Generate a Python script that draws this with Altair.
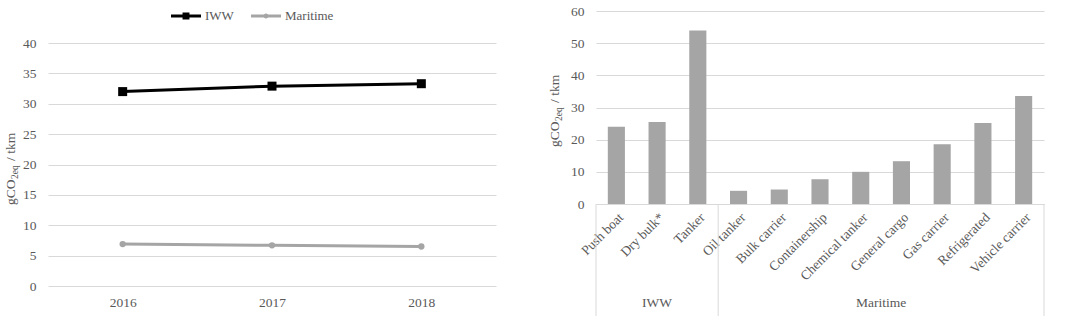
import altair as alt
import pandas as pd

# ---------------- data ----------------
years = ["2016", "2017", "2018"]
iww = [32.0, 32.9, 33.3]
maritime = [6.9, 6.7, 6.5]
series_names = ["IWW", "Maritime"]

vessels = ["Push boat", "Dry bulk*", "Tanker", "Oil tanker", "Bulk carrier",
           "Containership", "Chemical tanker", "General cargo", "Gas carrier",
           "Refrigerated", "Vehicle carrier"]
vessel_values = [24.0, 25.5, 53.9, 4.1, 4.5, 7.7, 10.0, 13.3, 18.6, 25.2, 33.6]
groups = ["IWW", "Maritime"]
group_sizes = [3, 8]

FONT = "Liberation Serif"
TXT = "#595959"
GRID = "#d9d9d9"
BLACK = "#000000"
GREY = "#a5a5a5"
FS = 13.5

W = 448
HL = 275      # left panel height (plot region starts at same top as right panel)
LTOP = 32     # top of left value range inside that panel (room for legend)
HR = 193

line_df = pd.DataFrame({
    "Year": years * 2,
    "Series": [series_names[0]] * 3 + [series_names[1]] * 3,
    "Value": iww + maritime,
})

bar_df = pd.DataFrame({"Vessel": vessels, "Value": vessel_values})

bounds = [0]
for s in group_sizes:
    bounds.append(bounds[-1] + s)
sep_df = pd.DataFrame({"pos": bounds})
grp_df = pd.DataFrame({
    "grp": groups,
    "mid": [(bounds[i] + bounds[i + 1]) / 2 for i in range(len(groups))],
})
N = len(vessels)


def y_title(xb, y0):
    """Rotated axis title 'gCO2eq / tkm' with a subscript, built from text marks."""
    base = alt.Chart(pd.DataFrame({"k": [0]}))
    start_sub = y0 - 26
    main = base.mark_text(angle=270, align="left", baseline="alphabetic",
                          font=FONT, fontSize=13.5, color=TXT).encode(
        x=alt.value(xb), y=alt.value(y0), text=alt.value("gCO"))
    sub = base.mark_text(angle=270, align="left", baseline="alphabetic",
                         font=FONT, fontSize=9.5, color=TXT).encode(
        x=alt.value(xb + 3), y=alt.value(start_sub), text=alt.value("2eq"))
    rest = base.mark_text(angle=270, align="left", baseline="alphabetic",
                          font=FONT, fontSize=13.5, color=TXT).encode(
        x=alt.value(xb), y=alt.value(start_sub - 18), text=alt.value("/ tkm"))
    return [main, sub, rest]


# ---------------- left chart ----------------
x_left = alt.X("Year:O", scale=alt.Scale(type="point", padding=0.5),
               axis=alt.Axis(title=None, labelAngle=0, domain=False, ticks=False,
                             labelPadding=9, labelFont=FONT, labelFontSize=FS,
                             labelColor=TXT))
y_left = alt.Y("Value:Q", scale=alt.Scale(domain=[0, 40], nice=False, range=[HL, LTOP]),
               axis=alt.Axis(title=None, values=list(range(0, 41, 5)), grid=True,
                             gridColor=GRID, domain=False, ticks=False,
                             labelPadding=12, labelFont=FONT, labelFontSize=FS,
                             labelColor=TXT))

legend = alt.Legend(
    orient="none", legendX=122, legendY=-11, direction="horizontal", title=None,
    symbolSize=900, symbolOpacity=1, labelFont=FONT, labelFontSize=13,
    labelColor=TXT, labelOffset=3, columnPadding=14,
)
legend_paths = [
    "M-1,-0.1H1V0.1H-1ZM-0.23,-0.23H0.23V0.23H-0.23Z",
    "M-1,-0.1H1V0.1H-1ZM0.17,0A0.17,0.17,0,1,1,-0.17,0A0.17,0.17,0,1,1,0.17,0Z",
]

legend_layer = alt.Chart(line_df).transform_filter("false").mark_point(
    filled=True, size=900, opacity=1).encode(
    x=x_left, y=y_left,
    color=alt.Color("Series:N", scale=alt.Scale(domain=series_names, range=[BLACK, GREY]),
                    legend=legend),
    shape=alt.Shape("Series:N", scale=alt.Scale(domain=series_names, range=legend_paths),
                    legend=legend),
)

line_iww = alt.Chart(line_df).transform_filter(alt.datum.Series == "IWW").mark_line(
    strokeWidth=3, color=BLACK).encode(x=x_left, y=y_left)
line_mar = alt.Chart(line_df).transform_filter(alt.datum.Series == "Maritime").mark_line(
    strokeWidth=3, color=GREY).encode(x=x_left, y=y_left)
pts_iww = alt.Chart(line_df).transform_filter(alt.datum.Series == "IWW").mark_point(
    shape="square", filled=True, size=81, color=BLACK, opacity=1).encode(x=x_left, y=y_left)
pts_mar = alt.Chart(line_df).transform_filter(alt.datum.Series == "Maritime").mark_point(
    shape="circle", filled=True, size=40, color=GREY, opacity=1).encode(x=x_left, y=y_left)

left = alt.layer(line_iww, line_mar, pts_iww, pts_mar, legend_layer,
                 *y_title(-33, 194)).properties(width=W, height=HL)

# ---------------- right chart ----------------
x_right = alt.X("Vessel:N", sort=vessels,
                scale=alt.Scale(paddingInner=0.58, paddingOuter=0.29),
                axis=alt.Axis(title=None, labelAngle=-45, labelAlign="right",
                              labelBaseline="middle", ticks=False, domain=True,
                              domainColor=GRID, labelPadding=11, labelOffset=5,
                              labelFont=FONT, labelFontSize=FS, labelColor=TXT))
y_right = alt.Y("Value:Q", scale=alt.Scale(domain=[0, 60], nice=False),
                axis=alt.Axis(title=None, values=list(range(0, 61, 10)), grid=True,
                              gridColor=GRID, domain=False, ticks=False,
                              labelPadding=12, labelFont=FONT, labelFontSize=FS,
                              labelColor=TXT))

bars = alt.Chart(bar_df).mark_bar(color=GREY).encode(x=x_right, y=y_right)

seps = alt.Chart(sep_df).mark_rule(color=GRID, strokeWidth=1).encode(
    x=alt.X("pos:Q", scale=alt.Scale(domain=[0, N], nice=False, zero=False), axis=None),
    y=alt.value(HR), y2=alt.value(HR + 112),
)
grp_text = alt.Chart(grp_df).mark_text(font=FONT, fontSize=FS, color=TXT,
                                       baseline="middle").encode(
    x=alt.X("mid:Q", scale=alt.Scale(domain=[0, N], nice=False, zero=False), axis=None),
    y=alt.value(HR + 99),
    text="grp:N",
)

right = alt.layer(bars, seps, grp_text, *y_title(-37, 136)).resolve_scale(
    x="independent").properties(width=W, height=HR)

chart = alt.hconcat(left, right, spacing=52).properties(
    padding={"left": 4, "top": 0, "right": 0, "bottom": 0},
    background="white",
).configure_view(stroke=None)

chart.save("out.html", embed_options={"renderer": "svg", "actions": False})
